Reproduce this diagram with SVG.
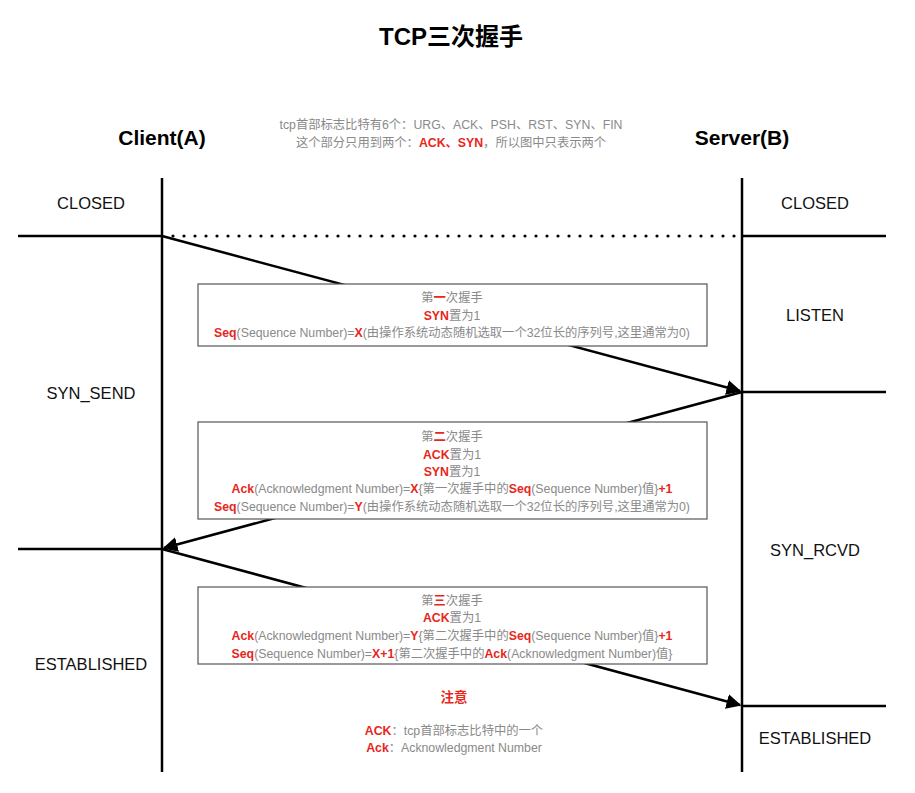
<svg xmlns="http://www.w3.org/2000/svg" width="915" height="793" viewBox="0 0 915 793">
<style>
text{font-family:"Liberation Sans","Noto Sans CJK SC",sans-serif;}
.title{font-size:24px;font-weight:bold;fill:#000;text-anchor:middle;}
.actor{font-size:21px;font-weight:bold;fill:#000;text-anchor:middle;}
.state{font-size:16.5px;fill:#111;text-anchor:middle;}
.note{font-size:12.3px;fill:#8a8a8a;text-anchor:middle;}
.r{fill:#e8261c;font-weight:bold;}
.line{stroke:#000;stroke-width:2.5;fill:none;}
.arrow{stroke:#000;stroke-width:2.5;fill:none;marker-end:url(#ah);}
.box{fill:#fff;stroke:#555;stroke-width:1.2;}
</style>
<defs>
<marker id="ah" viewBox="0 0 10 10" refX="9" refY="5" markerWidth="6" markerHeight="6" markerUnits="strokeWidth" orient="auto">
<path d="M0,0 L10,5 L0,10 z" fill="#000"/>
</marker>
</defs>
<rect width="915" height="793" fill="#fff"/>
<text class="title" x="451" y="45">TCP三次握手</text>
<g id="note-top">
<text class="note" x="451" y="129">tcp首部标志比特有6个：URG、ACK、PSH、RST、SYN、FIN</text>
<text class="note" x="451" y="147">这个部分只用到两个：<tspan class="r">ACK、SYN</tspan>，所以图中只表示两个</text>
</g>
<g id="client">
<text class="actor" x="162" y="145">Client(A)</text>
<line class="line" x1="162" y1="178" x2="162" y2="772"/>
</g>
<g id="server">
<text class="actor" x="742" y="145">Server(B)</text>
<line class="line" x1="742" y1="178" x2="742" y2="772"/>
</g>
<g id="states">
<text class="state" x="91" y="209">CLOSED</text>
<text class="state" x="815" y="209">CLOSED</text>
<text class="state" x="815" y="321">LISTEN</text>
<text class="state" x="91" y="399">SYN_SEND</text>
<text class="state" x="815" y="556">SYN_RCVD</text>
<text class="state" x="91" y="670">ESTABLISHED</text>
<text class="state" x="815" y="744">ESTABLISHED</text>
<line class="line" x1="18" y1="236" x2="162" y2="236"/>
<line class="line" x1="742" y1="236" x2="886" y2="236"/>
<line x1="173" y1="236" x2="742" y2="236" stroke="#000" stroke-width="3.2" stroke-linecap="round" stroke-dasharray="0 11"/>
<line class="line" x1="742" y1="392" x2="886" y2="392"/>
<line class="line" x1="18" y1="549" x2="162" y2="549"/>
<line class="line" x1="742" y1="706" x2="886" y2="706"/>
</g>
<g id="connectors">
<line class="arrow" x1="162" y1="236" x2="740" y2="391"/>
<line class="arrow" x1="742" y1="392" x2="164" y2="548"/>
<line class="arrow" x1="162" y1="549" x2="740" y2="705"/>
</g>
<g id="step1">
<rect class="box" x="198" y="284" width="509" height="62"/>
<text class="note" x="452" y="302">第<tspan class="r">一</tspan>次握手</text>
<text class="note" x="452" y="320"><tspan class="r">SYN</tspan>置为1</text>
<text class="note" x="452" y="337"><tspan class="r">Seq</tspan>(Sequence Number)=<tspan class="r">X</tspan>(由操作系统动态随机选取一个32位长的序列号,这里通常为0)</text>
</g>
<g id="step2">
<rect class="box" x="198" y="422" width="509" height="97"/>
<text class="note" x="452" y="441">第<tspan class="r">二</tspan>次握手</text>
<text class="note" x="452" y="459"><tspan class="r">ACK</tspan>置为1</text>
<text class="note" x="452" y="476"><tspan class="r">SYN</tspan>置为1</text>
<text class="note" x="452" y="493"><tspan class="r">Ack</tspan>(Acknowledgment Number)=<tspan class="r">X</tspan>{第一次握手中的<tspan class="r">Seq</tspan>(Sequence Number)值}<tspan class="r">+1</tspan></text>
<text class="note" x="452" y="511"><tspan class="r">Seq</tspan>(Sequence Number)=<tspan class="r">Y</tspan>(由操作系统动态随机选取一个32位长的序列号,这里通常为0)</text>
</g>
<g id="step3">
<rect class="box" x="198" y="587" width="509" height="77"/>
<text class="note" x="452" y="605">第<tspan class="r">三</tspan>次握手</text>
<text class="note" x="452" y="622"><tspan class="r">ACK</tspan>置为1</text>
<text class="note" x="452" y="640"><tspan class="r">Ack</tspan>(Acknowledgment Number)=<tspan class="r">Y</tspan>{第二次握手中的<tspan class="r">Seq</tspan>(Sequence Number)值}<tspan class="r">+1</tspan></text>
<text class="note" x="452" y="658"><tspan class="r">Seq</tspan>(Sequence Number)=<tspan class="r">X+1</tspan>{第二次握手中的<tspan class="r">Ack</tspan>(Acknowledgment Number)值}</text>
</g>
<g id="note-bottom">
<text x="454" y="702" style="font-size:13.5px;font-weight:bold;fill:#e8261c;text-anchor:middle">注意</text>
<text class="note" x="454" y="735"><tspan class="r">ACK</tspan>：tcp首部标志比特中的一个</text>
<text class="note" x="454" y="752"><tspan class="r">Ack</tspan>：Acknowledgment Number</text>
</g>
</svg>
